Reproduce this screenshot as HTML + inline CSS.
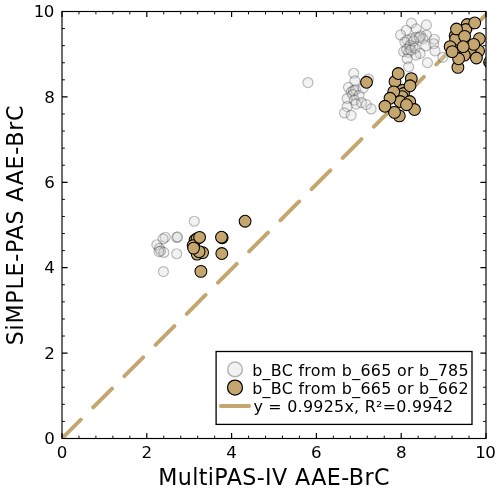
<!DOCTYPE html>
<html lang="en"><head><meta charset="utf-8"><title>AAE-BrC comparison</title>
<style>html,body{margin:0;padding:0;background:#fff;}svg{display:block;}text{font-family:"DejaVu Sans", "Liberation Sans", sans-serif;fill:#000;}</style></head><body>
<svg width="500" height="491" viewBox="0 0 500 491">
<rect width="500" height="491" fill="#fff"/>
<defs><clipPath id="ax"><rect x="62.00" y="11.50" width="424.00" height="427.00"/></clipPath></defs>
<g clip-path="url(#ax)">
<line x1="62.00" y1="438.50" x2="486.00" y2="14.70" stroke="#C4A66E" stroke-width="3.9" stroke-linecap="round" stroke-dasharray="26.6 17.5"/>
<g transform="translate(0.15 0.15)" fill="#d3d3d3" fill-opacity="0.3" stroke="#000" stroke-opacity="0.25" stroke-width="1.2">
<circle cx="194.1" cy="221.1" r="5.0"/>
<circle cx="176.6" cy="237.3" r="5.0"/>
<circle cx="177.4" cy="236.8" r="5.0"/>
<circle cx="165.1" cy="237.1" r="5.0"/>
<circle cx="162.9" cy="238.8" r="5.0"/>
<circle cx="156.7" cy="244.6" r="5.0"/>
<circle cx="159.3" cy="248.2" r="5.0"/>
<circle cx="160.5" cy="250.7" r="5.0"/>
<circle cx="163.8" cy="252.3" r="5.0"/>
<circle cx="158.8" cy="251.5" r="5.0"/>
<circle cx="176.5" cy="253.6" r="5.0"/>
<circle cx="163.3" cy="271.4" r="5.0"/>
<circle cx="307.8" cy="82.4" r="5.0"/>
<circle cx="353.6" cy="73.1" r="5.0"/>
<circle cx="354.7" cy="80.8" r="5.0"/>
<circle cx="368.3" cy="78.9" r="5.0"/>
<circle cx="348.3" cy="87.2" r="5.0"/>
<circle cx="351.0" cy="92.0" r="5.0"/>
<circle cx="353.4" cy="90.4" r="5.0"/>
<circle cx="355.5" cy="89.6" r="5.0"/>
<circle cx="352.6" cy="94.4" r="5.0"/>
<circle cx="359.0" cy="95.2" r="5.0"/>
<circle cx="347.0" cy="98.4" r="5.0"/>
<circle cx="354.2" cy="100.0" r="5.0"/>
<circle cx="355.8" cy="104.0" r="5.0"/>
<circle cx="361.4" cy="102.4" r="5.0"/>
<circle cx="366.2" cy="104.5" r="5.0"/>
<circle cx="371.0" cy="108.8" r="5.0"/>
<circle cx="347.0" cy="106.4" r="5.0"/>
<circle cx="344.3" cy="112.8" r="5.0"/>
<circle cx="351.0" cy="115.2" r="5.0"/>
<circle cx="363.0" cy="88.0" r="5.0"/>
<circle cx="411.4" cy="23.0" r="5.0"/>
<circle cx="426.3" cy="24.8" r="5.0"/>
<circle cx="416.1" cy="28.7" r="5.0"/>
<circle cx="406.1" cy="30.1" r="5.0"/>
<circle cx="400.4" cy="34.8" r="5.0"/>
<circle cx="426.3" cy="35.1" r="5.0"/>
<circle cx="420.6" cy="35.8" r="5.0"/>
<circle cx="415.7" cy="37.2" r="5.0"/>
<circle cx="411.4" cy="38.7" r="5.0"/>
<circle cx="407.1" cy="40.1" r="5.0"/>
<circle cx="404.7" cy="41.9" r="5.0"/>
<circle cx="422.8" cy="38.7" r="5.0"/>
<circle cx="434.2" cy="39.1" r="5.0"/>
<circle cx="433.5" cy="43.6" r="5.0"/>
<circle cx="425.6" cy="45.8" r="5.0"/>
<circle cx="412.8" cy="46.5" r="5.0"/>
<circle cx="409.2" cy="47.2" r="5.0"/>
<circle cx="434.9" cy="50.8" r="5.0"/>
<circle cx="403.5" cy="51.5" r="5.0"/>
<circle cx="408.5" cy="52.2" r="5.0"/>
<circle cx="419.9" cy="53.3" r="5.0"/>
<circle cx="415.7" cy="55.0" r="5.0"/>
<circle cx="442.7" cy="57.2" r="5.0"/>
<circle cx="407.1" cy="58.6" r="5.0"/>
<circle cx="427.3" cy="62.5" r="5.0"/>
<circle cx="408.5" cy="66.7" r="5.0"/>
<circle cx="409.9" cy="45.1" r="5.0"/>
<circle cx="406.4" cy="49.3" r="5.0"/>
<circle cx="413.5" cy="40.8" r="5.0"/>
<circle cx="419.2" cy="37.2" r="5.0"/>
<circle cx="410.7" cy="50.0" r="5.0"/>
<circle cx="414.9" cy="47.9" r="5.0"/>
</g>
<g transform="translate(0.1 0.1)" fill="#C4A66E" stroke="#000" stroke-width="1.05">
<circle cx="195.0" cy="240.0" r="5.9"/>
<circle cx="197.0" cy="238.5" r="5.9"/>
<circle cx="197.0" cy="254.0" r="5.9"/>
<circle cx="202.5" cy="252.5" r="5.9"/>
<circle cx="199.0" cy="251.5" r="5.9"/>
<circle cx="193.0" cy="245.5" r="5.9"/>
<circle cx="193.5" cy="248.0" r="5.9"/>
<circle cx="199.5" cy="237.2" r="5.9"/>
<circle cx="222.1" cy="237.7" r="5.9"/>
<circle cx="221.4" cy="237.1" r="5.9"/>
<circle cx="221.7" cy="253.4" r="5.9"/>
<circle cx="200.8" cy="271.3" r="5.9"/>
<circle cx="245.0" cy="221.1" r="5.9"/>
<circle cx="366.4" cy="82.2" r="5.9"/>
<circle cx="394.9" cy="81.4" r="5.9"/>
<circle cx="398.1" cy="73.4" r="5.9"/>
<circle cx="411.2" cy="78.5" r="5.9"/>
<circle cx="402.4" cy="90.2" r="5.9"/>
<circle cx="403.4" cy="93.4" r="5.9"/>
<circle cx="402.0" cy="96.5" r="5.9"/>
<circle cx="409.9" cy="85.7" r="5.9"/>
<circle cx="393.6" cy="91.8" r="5.9"/>
<circle cx="400.0" cy="101.4" r="5.9"/>
<circle cx="409.6" cy="101.4" r="5.9"/>
<circle cx="389.9" cy="98.2" r="5.9"/>
<circle cx="399.2" cy="115.8" r="5.9"/>
<circle cx="394.4" cy="112.3" r="5.9"/>
<circle cx="384.8" cy="106.2" r="5.9"/>
<circle cx="414.4" cy="109.4" r="5.9"/>
<circle cx="406.4" cy="104.6" r="5.9"/>
<circle cx="467.1" cy="24.4" r="5.9"/>
<circle cx="465.6" cy="29.4" r="5.9"/>
<circle cx="455.0" cy="35.8" r="5.9"/>
<circle cx="455.5" cy="39.0" r="5.9"/>
<circle cx="479.2" cy="38.6" r="5.9"/>
<circle cx="450.0" cy="46.5" r="5.9"/>
<circle cx="478.5" cy="50.8" r="5.9"/>
<circle cx="470.0" cy="52.0" r="5.9"/>
<circle cx="464.2" cy="55.0" r="5.9"/>
<circle cx="457.8" cy="67.3" r="5.9"/>
<circle cx="458.5" cy="58.7" r="5.9"/>
<circle cx="489.6" cy="62.2" r="5.9"/>
<circle cx="476.3" cy="57.9" r="5.9"/>
<circle cx="456.4" cy="28.9" r="5.9"/>
<circle cx="474.6" cy="22.8" r="5.9"/>
<circle cx="464.5" cy="36.2" r="5.9"/>
<circle cx="473.6" cy="44.3" r="5.9"/>
<circle cx="463.1" cy="46.6" r="5.9"/>
<circle cx="452.1" cy="51.5" r="5.9"/>
</g>
</g>
<g stroke="#000" stroke-width="0.9" fill="none">
<path stroke-width="1.20" d="M62.00 438.50v-5.6M62.00 11.50v5.6M62.00 438.50h5.6M486.00 438.50h-5.6"/>
<path stroke-width="0.95" d="M78.96 438.50v-2.9M78.96 11.50v2.9M62.00 421.42h2.9M486.00 421.42h-2.9"/>
<path stroke-width="0.95" d="M95.92 438.50v-2.9M95.92 11.50v2.9M62.00 404.34h2.9M486.00 404.34h-2.9"/>
<path stroke-width="0.95" d="M112.88 438.50v-2.9M112.88 11.50v2.9M62.00 387.26h2.9M486.00 387.26h-2.9"/>
<path stroke-width="0.95" d="M129.84 438.50v-2.9M129.84 11.50v2.9M62.00 370.18h2.9M486.00 370.18h-2.9"/>
<path stroke-width="1.20" d="M146.80 438.50v-5.6M146.80 11.50v5.6M62.00 353.10h5.6M486.00 353.10h-5.6"/>
<path stroke-width="0.95" d="M163.76 438.50v-2.9M163.76 11.50v2.9M62.00 336.02h2.9M486.00 336.02h-2.9"/>
<path stroke-width="0.95" d="M180.72 438.50v-2.9M180.72 11.50v2.9M62.00 318.94h2.9M486.00 318.94h-2.9"/>
<path stroke-width="0.95" d="M197.68 438.50v-2.9M197.68 11.50v2.9M62.00 301.86h2.9M486.00 301.86h-2.9"/>
<path stroke-width="0.95" d="M214.64 438.50v-2.9M214.64 11.50v2.9M62.00 284.78h2.9M486.00 284.78h-2.9"/>
<path stroke-width="1.20" d="M231.60 438.50v-5.6M231.60 11.50v5.6M62.00 267.70h5.6M486.00 267.70h-5.6"/>
<path stroke-width="0.95" d="M248.56 438.50v-2.9M248.56 11.50v2.9M62.00 250.62h2.9M486.00 250.62h-2.9"/>
<path stroke-width="0.95" d="M265.52 438.50v-2.9M265.52 11.50v2.9M62.00 233.54h2.9M486.00 233.54h-2.9"/>
<path stroke-width="0.95" d="M282.48 438.50v-2.9M282.48 11.50v2.9M62.00 216.46h2.9M486.00 216.46h-2.9"/>
<path stroke-width="0.95" d="M299.44 438.50v-2.9M299.44 11.50v2.9M62.00 199.38h2.9M486.00 199.38h-2.9"/>
<path stroke-width="1.20" d="M316.40 438.50v-5.6M316.40 11.50v5.6M62.00 182.30h5.6M486.00 182.30h-5.6"/>
<path stroke-width="0.95" d="M333.36 438.50v-2.9M333.36 11.50v2.9M62.00 165.22h2.9M486.00 165.22h-2.9"/>
<path stroke-width="0.95" d="M350.32 438.50v-2.9M350.32 11.50v2.9M62.00 148.14h2.9M486.00 148.14h-2.9"/>
<path stroke-width="0.95" d="M367.28 438.50v-2.9M367.28 11.50v2.9M62.00 131.06h2.9M486.00 131.06h-2.9"/>
<path stroke-width="0.95" d="M384.24 438.50v-2.9M384.24 11.50v2.9M62.00 113.98h2.9M486.00 113.98h-2.9"/>
<path stroke-width="1.20" d="M401.20 438.50v-5.6M401.20 11.50v5.6M62.00 96.90h5.6M486.00 96.90h-5.6"/>
<path stroke-width="0.95" d="M418.16 438.50v-2.9M418.16 11.50v2.9M62.00 79.82h2.9M486.00 79.82h-2.9"/>
<path stroke-width="0.95" d="M435.12 438.50v-2.9M435.12 11.50v2.9M62.00 62.74h2.9M486.00 62.74h-2.9"/>
<path stroke-width="0.95" d="M452.08 438.50v-2.9M452.08 11.50v2.9M62.00 45.66h2.9M486.00 45.66h-2.9"/>
<path stroke-width="0.95" d="M469.04 438.50v-2.9M469.04 11.50v2.9M62.00 28.58h2.9M486.00 28.58h-2.9"/>
<path stroke-width="1.20" d="M486.00 438.50v-5.6M486.00 11.50v5.6M62.00 11.50h5.6M486.00 11.50h-5.6"/>
</g>
<rect x="62.00" y="11.50" width="424.00" height="427.00" fill="none" stroke="#000" stroke-width="1.15"/>
<g font-size="16.67px">
<text x="62.00" y="458.20" text-anchor="middle">0</text>
<text x="54.80" y="444.10" text-anchor="end">0</text>
<text x="146.80" y="458.20" text-anchor="middle">2</text>
<text x="54.80" y="358.70" text-anchor="end">2</text>
<text x="231.60" y="458.20" text-anchor="middle">4</text>
<text x="54.80" y="273.30" text-anchor="end">4</text>
<text x="316.40" y="458.20" text-anchor="middle">6</text>
<text x="54.80" y="187.90" text-anchor="end">6</text>
<text x="401.20" y="458.20" text-anchor="middle">8</text>
<text x="54.80" y="102.50" text-anchor="end">8</text>
<text x="485.30" y="458.20" text-anchor="middle" letter-spacing="-0.6">10</text>
<text x="53.70" y="17.10" text-anchor="end" letter-spacing="-0.6">10</text>
</g>
<text x="274.00" y="485.4" font-size="22.2px" letter-spacing="0.39" text-anchor="middle">MultiPAS-IV AAE-BrC</text>
<text transform="translate(22.5 225.00) rotate(-90)" font-size="22.2px" letter-spacing="0.73" text-anchor="middle">SiMPLE-PAS AAE-BrC</text>
<rect x="216.1" y="351.5" width="255.9" height="72.9" fill="#fff" stroke="#000" stroke-width="1.3"/>
<circle cx="235" cy="369.4" r="7.4" fill="#d3d3d3" fill-opacity="0.3" stroke="#000" stroke-opacity="0.27" stroke-width="1.5"/>
<circle cx="235" cy="387.6" r="7.5" fill="#C4A66E" stroke="#000" stroke-width="1.25"/>
<line x1="220.9" y1="406" x2="249" y2="406" stroke="#C4A66E" stroke-width="4.1" stroke-linecap="round"/>
<g font-size="15.9px" letter-spacing="0.28">
<text x="252.2" y="375.5">b_BC from b_665 or b_785</text>
<text x="252.2" y="393.7">b_BC from b_665 or b_662</text>
<text x="253.4" y="411.9" letter-spacing="0.26">y = 0.9925x, R²=0.9942</text>
</g>
</svg></body></html>
